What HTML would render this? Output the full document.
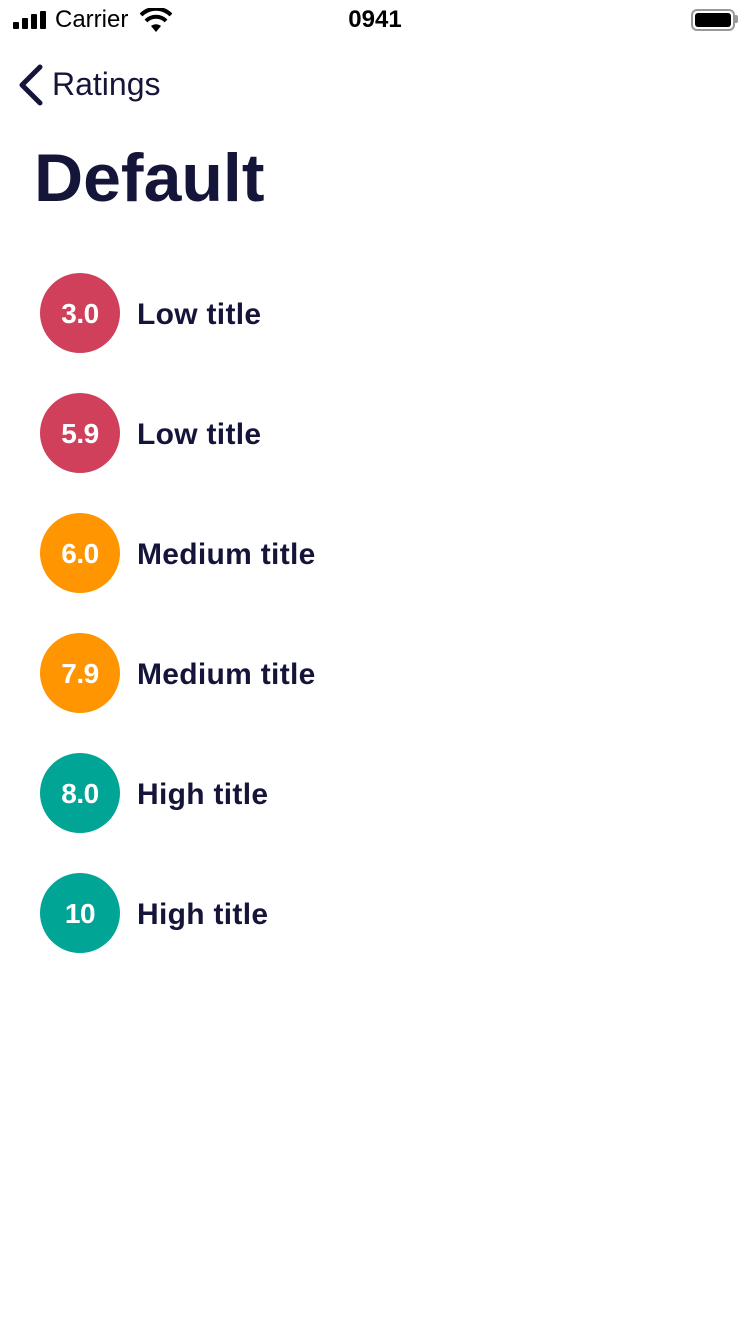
<!DOCTYPE html>
<html><head><meta charset="utf-8"><style>
body{margin:0;width:750px;height:1334px;background:#fff;font-family:"Liberation Sans",sans-serif;color:#15153a;position:relative;overflow:hidden}
.a{position:absolute}
.circle{position:absolute;left:40px;width:80px;height:80px;border-radius:50%;color:#fff;font-weight:bold;font-size:28px;line-height:82px;text-align:center;letter-spacing:-0.5px}
.label{position:absolute;left:137px;font-weight:bold;font-size:30px;line-height:40px;letter-spacing:0.3px}
</style></head><body>
<div class="a" style="left:0;top:0;width:750px;height:40px">
  <svg class="a" style="left:13px;top:11px" width="36" height="18">
    <rect x="0" y="11" width="6" height="7" rx="1" fill="#000"/><rect x="9" y="7" width="6" height="11" rx="1" fill="#000"/><rect x="18" y="3" width="6" height="15" rx="1" fill="#000"/><rect x="27" y="0" width="6" height="18" rx="1" fill="#000"/></svg>
  <div class="a" style="left:55px;top:6px;font-size:24px;color:#000">Carrier</div>
  <svg class="a" style="left:140px;top:8px" width="32" height="24" viewBox="0 0 32 24">
    <path d="M16 24 L11 18 A8 8 0 0 1 21 18 Z" fill="#000"/>
    <path d="M6 13 A14 14 0 0 1 26 13" stroke="#000" stroke-width="4" fill="none"/>
    <path d="M1 7 A21 21 0 0 1 31 7" stroke="#000" stroke-width="4" fill="none"/></svg>
  <div class="a" style="left:0;width:750px;text-align:center;top:6px;font-size:24px;font-weight:bold;color:#000">0941</div>
  <div class="a" style="left:691px;top:9px;width:40px;height:18px;border:2px solid #999;border-radius:6px">
    <div class="a" style="left:2px;top:2px;width:36px;height:14px;background:#000;border-radius:3px"></div></div>
  <div class="a" style="left:735px;top:15px;width:3px;height:8px;background:#999;border-radius:0 2px 2px 0"></div>
</div>
<svg class="a" style="left:16px;top:64px" width="28" height="42"><path d="M24 3 L6 21 L24 39" stroke="#15153a" stroke-width="5" fill="none" stroke-linecap="round" stroke-linejoin="round"/></svg>
<div class="a" style="left:52px;top:66px;font-size:32px">Ratings</div>
<div class="a" style="left:34px;top:139px;font-size:68px;font-weight:bold;letter-spacing:0px">Default</div>
<div id="list"></div>
<script>
const ratings=["3.0","5.9","6.0","7.9","8.0","10"];
const titles=["Low title","Low title","Medium title","Medium title","High title","High title"];
const list=document.getElementById('list');
ratings.forEach((r,i)=>{
  const v=parseFloat(r);
  const col=v<6?'#d0405a':(v<8?'#ff9500':'#00a596');
  const top=273+i*120;
  const c=document.createElement('div');
  c.className='circle';c.style.top=top+'px';c.style.background=col;c.textContent=r;
  
  
  list.appendChild(c);
  const l=document.createElement('div');
  l.className='label';l.style.top=(top+22)+'px';l.textContent=titles[i];
  
  
  list.appendChild(l);
});
</script>
</body></html>
